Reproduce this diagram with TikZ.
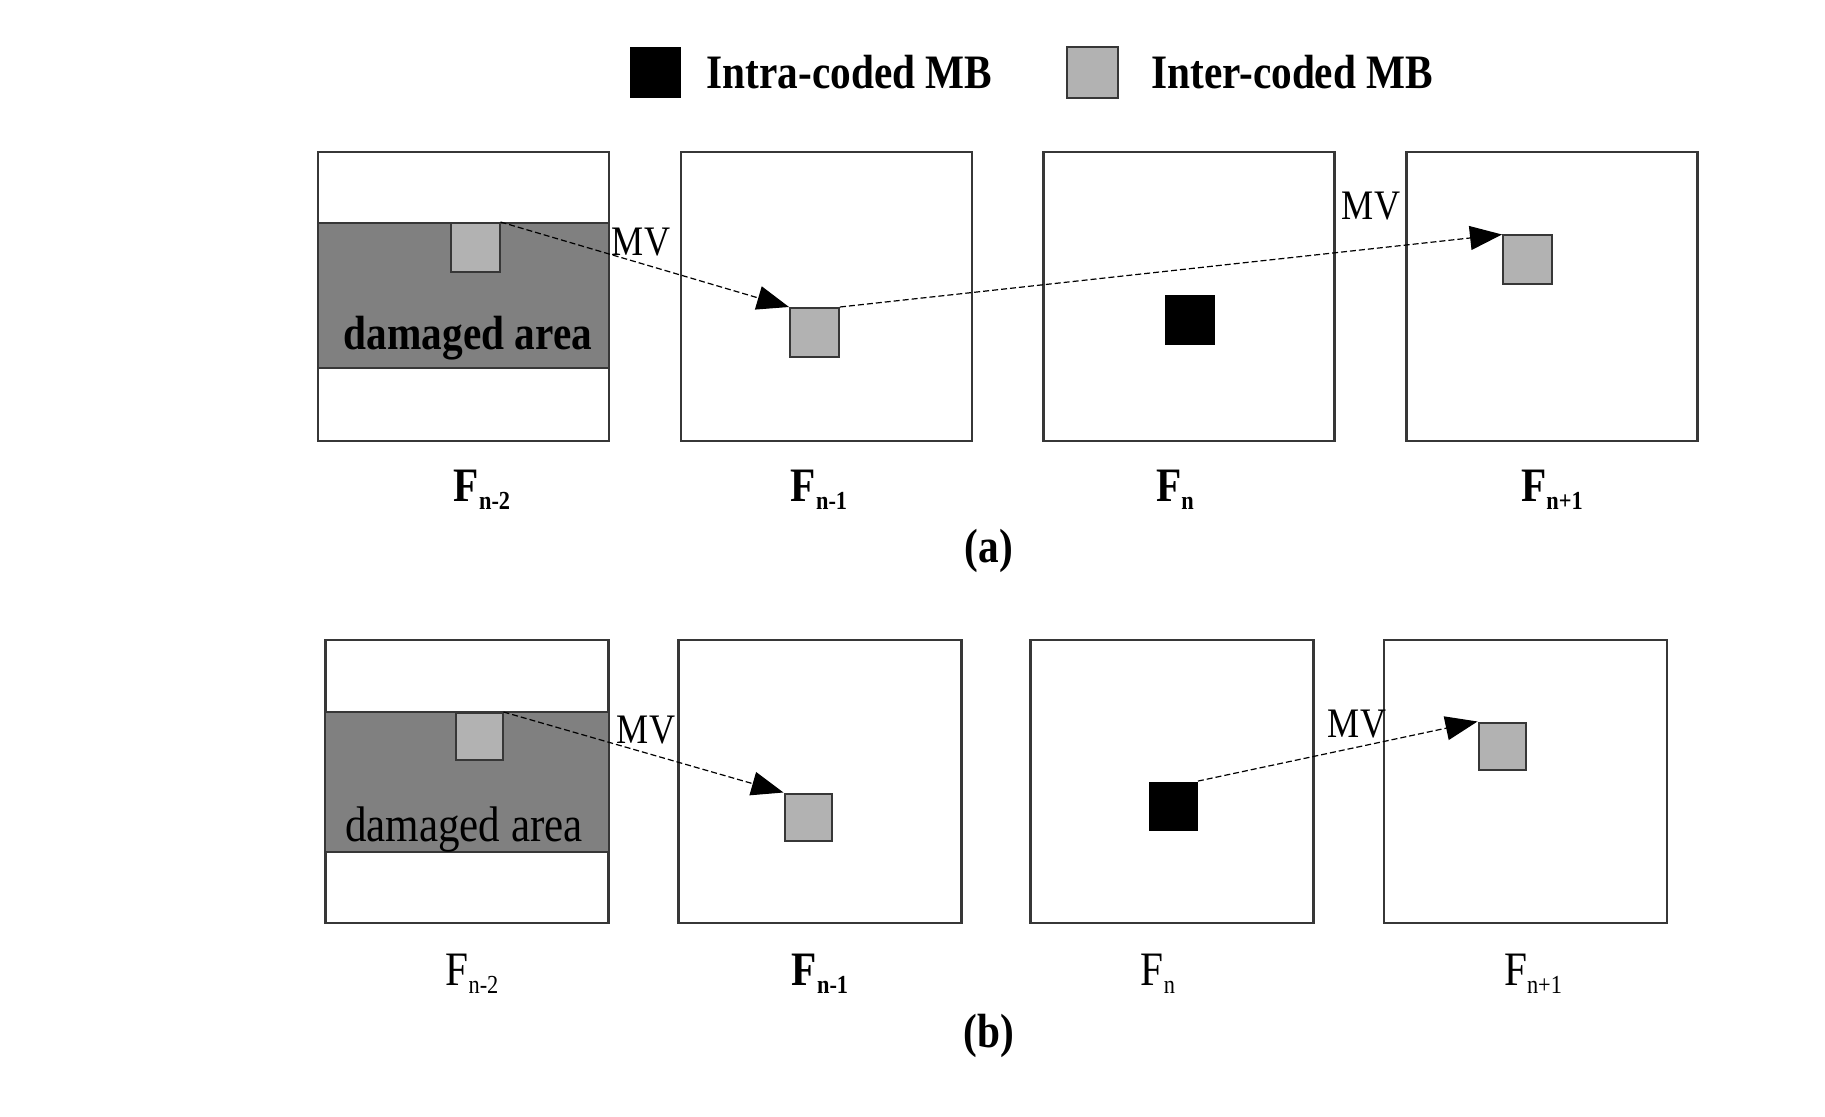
\documentclass[tikz,border=0pt]{standalone}
\usepackage{fontspec}
\setmainfont{Liberation Serif}[FakeStretch=0.86]
\usepackage{tikz}
\usetikzlibrary{arrows.meta,positioning}

\definecolor{damaged}{RGB}{128,128,128}
\definecolor{intergray}{RGB}{178,178,178}
\definecolor{edge}{RGB}{55,55,55}

\newcommand{\subidx}[1]{\raisebox{-4pt}{\fontsize{13}{14}\selectfont #1}}

\tikzset{
  framea/.style={draw=edge, line width=1.2pt, minimum width=145.5pt, minimum height=144.5pt, inner sep=0pt},
  frameb/.style={draw=edge, line width=1.2pt, minimum width=141.5pt, minimum height=141.5pt, inner sep=0pt},
  damagedarea/.style={draw=edge, line width=1.2pt, fill=damaged},
  intermb/.style={draw=edge, line width=1pt, fill=intergray, minimum size=24.5pt, inner sep=0pt},
  intramb/.style={fill=black, minimum size=25pt, inner sep=0pt},
  mv/.style={dash pattern=on 3pt off 1.5pt, line width=0.6pt, -{Triangle[length=16pt,width=12pt]}},
  txt/.style={inner sep=0pt, font=\fontsize{24}{28}\selectfont},
  boldtxt/.style={inner sep=0pt, font=\fontsize{24}{28}\selectfont\bfseries},
  mvtxt/.style={inner sep=0pt, font=\fontsize{21}{24}\selectfont}
}

\begin{document}
\begin{tikzpicture}[x=0.5pt,y=-0.5pt]
\useasboundingbox (0,0) rectangle (1825,1117);

% legend
\node[intramb, minimum size=25.5pt] (intra) at (655.5,72.5) {};
\node[boldtxt, right=12.5pt of intra] (intralabel) {Intra-coded MB};
\node[intermb, minimum size=25.5pt] (inter) at (1092.5,72.5) {};
\node[boldtxt, right=16pt of inter] (interlabel) {Inter-coded MB};

% (a)
\foreach \i/\x in {1/463.5,2/826.5,3/1189,4/1552}
  \node[framea] (fa\i) at (\x,296.5) {};
\draw[damagedarea] (318,223) rectangle (609,368);
\node[boldtxt] (dmga) at (468,338) {damaged area};

\node[intermb] (ma1) at (475,247.5) {};
\node[intermb] (ma2) at (814.5,332.5) {};
\node[intramb] (ma3) at (1189.5,320.5) {};
\node[intermb] (ma4) at (1527.5,260) {};

\draw[mv] (ma1.north east) -- (ma2.north west);
\draw[mv] (ma2.north east) -- (ma4.north west);
\node[mvtxt] (mva1) at (641,242) {MV};
\node[mvtxt] (mva2) at (1371,206) {MV};

\node[boldtxt] (la1) at (482,490) {F\subidx{n-2}};
\node[boldtxt] (la2) at (819,490) {F\subidx{n-1}};
\node[boldtxt] (la3) at (1175,490) {F\subidx{n}};
\node[boldtxt] (la4) at (1552,490) {F\subidx{n+1}};
\node[boldtxt] (capa) at (989,551) {(a)};

% (b)
\foreach \i/\x in {1/467,2/820,3/1172,4/1525.5}
  \node[frameb] (fb\i) at (\x,781.5) {};
\draw[damagedarea] (325,712) rectangle (609,852);
\node[txt, font=\fontsize{25}{28}\selectfont] (dmgb) at (464,830) {damaged area};

\node[intermb, minimum size=23.5pt] (mb1) at (479,736.5) {};
\node[intermb, minimum size=23.5pt] (mb2) at (808,817) {};
\node[intramb, minimum size=24.5pt] (mb3) at (1173,806) {};
\node[intermb, minimum size=23.5pt] (mb4) at (1502,746) {};

\draw[mv] (mb1.north east) -- (mb2.north west);
\draw[mv] (mb3.north east) -- (mb4.north west);
\node[mvtxt] (mvb1) at (646,730) {MV};
\node[mvtxt] (mvb2) at (1357,724) {MV};

\node[txt] (lb1) at (472,974) {F\subidx{n-2}};
\node[boldtxt] (lb2) at (820,974) {F\subidx{n-1}};
\node[txt] (lb3) at (1158,974) {F\subidx{n}};
\node[txt] (lb4) at (1533,974) {F\subidx{n+1}};
\node[boldtxt] (capb) at (989,1036) {(b)};
\end{tikzpicture}
\end{document}
